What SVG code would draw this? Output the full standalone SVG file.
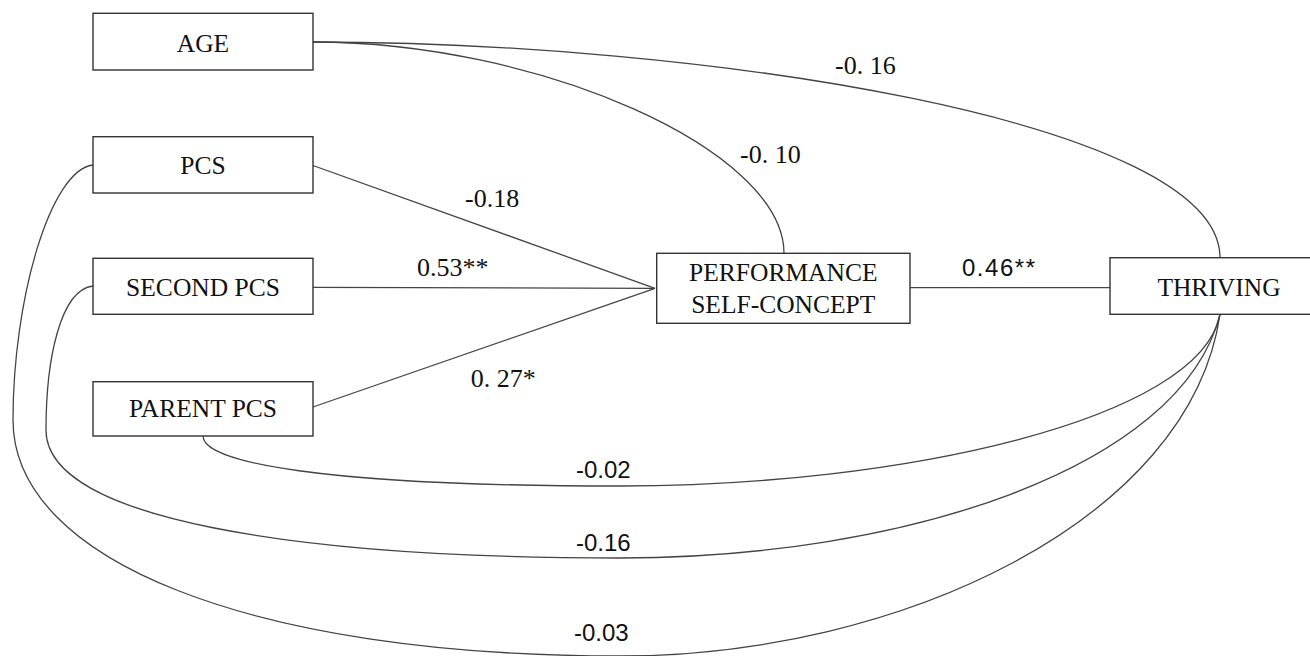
<svg xmlns="http://www.w3.org/2000/svg" width="1310" height="656" viewBox="0 0 1310 656">
<style>
.box{fill:#fff;stroke:#333;stroke-width:1.4}
.nl{font-family:"Liberation Serif","Times New Roman",serif;font-size:25.5px;fill:#111;text-anchor:middle}
.el{font-family:"Liberation Serif","Times New Roman",serif;font-size:26px;fill:#111}
.es{font-family:"Liberation Sans",Arial,sans-serif;font-size:24px;fill:#111}
.c{fill:none;stroke:#444;stroke-width:1.3}
</style>
<rect width="1310" height="656" fill="#fff"/>
<g id="connectors">
<path class="c" d="M313,165.5 L655,288.3"/>
<path class="c" d="M313,287.3 L655,288.3"/>
<path class="c" d="M313,407 L655,288.3"/>
<path class="c" d="M910,287.7 L1110,287.7"/>
<path class="c" d="M313,42 C540,42 784,150 784,253.3"/>
<path class="c" d="M313,42 C700,42 1220,120 1220,257.7"/>
<path class="c" d="M203,436 C203,462 320,486 620,486 C900,486 1200,420 1220,314.3"/>
<path class="c" d="M93,286 C60,290 46,360 46,430 C46,520 300,558 620,558 C900,558 1180,470 1220,314.3"/>
<path class="c" d="M93,165 C50,170 13,300 13,420 C13,560 250,656 620,656 C900,656 1190,520 1220,314.3"/>
</g>
<g id="node-age"><rect class="box" x="93" y="13.3" width="220" height="56.7"/><text class="nl" x="203" y="51.5">AGE</text></g>
<g id="node-pcs"><rect class="box" x="93" y="136.7" width="220" height="56.3"/><text class="nl" x="203" y="173.5">PCS</text></g>
<g id="node-second-pcs"><rect class="box" x="93" y="258.3" width="220" height="56"/><text class="nl" x="203" y="295.7">SECOND PCS</text></g>
<g id="node-parent-pcs"><rect class="box" x="93" y="381.7" width="220" height="54.3"/><text class="nl" x="203" y="417.3">PARENT PCS</text></g>
<g id="node-performance"><rect class="box" x="656.7" y="253.3" width="253.3" height="70"/><text class="nl" x="783.3" y="280.7">PERFORMANCE</text><text class="nl" x="783.3" y="312.7">SELF-CONCEPT</text></g>
<g id="node-thriving"><rect class="box" x="1110" y="257.7" width="220" height="56.6"/><text class="nl" x="1219" y="295.7">THRIVING</text></g>
<g id="labels">
<text class="el" x="465" y="207">-0.18</text>
<text class="el" x="417" y="276">0.53**</text>
<text class="el" x="470.7" y="387">0. 27*</text>
<text class="el" x="740" y="163">-0. 10</text>
<text class="el" x="835" y="74">-0. 16</text>
<text class="es" x="962" y="276" textLength="73" lengthAdjust="spacing">0.46**</text>
<text class="es" x="576" y="478">-0.02</text>
<text class="es" x="576" y="551">-0.16</text>
<text class="es" x="574" y="641">-0.03</text>
</g>
</svg>
